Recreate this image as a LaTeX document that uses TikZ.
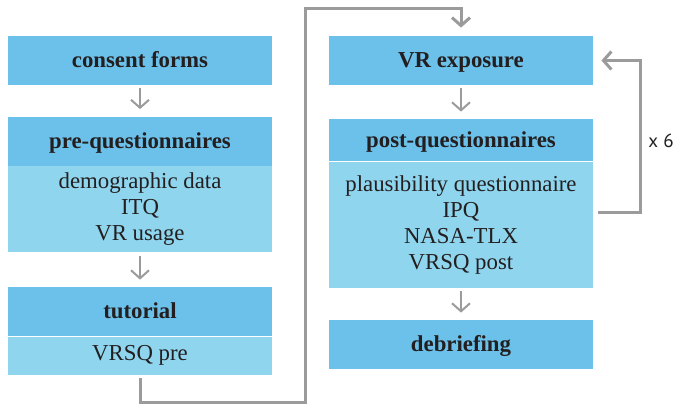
\documentclass[tikz,border=0pt]{standalone}
\usepackage{fontspec}
\setmainfont{Liberation Serif}
\newfontfamily\labelfont{PT Sans}
\usepackage{xcolor}
\usepackage{tikz}
\usetikzlibrary{positioning, arrows.meta}
\definecolor{headblue}{HTML}{6CC1EA}
\definecolor{bodyblue}{HTML}{8FD5EE}
\definecolor{linegray}{HTML}{9B9B9B}
\definecolor{inkdark}{HTML}{231F20}

\tikzset{
  stagehead/.style={fill=headblue, text=inkdark, inner sep=0pt, minimum width=132pt,
                    minimum height=24.5pt, text height=8.5pt, text depth=1.5pt,
                    font=\fontsize{11.4}{13}\selectfont\bfseries},
  stagebody/.style={fill=bodyblue, text=inkdark, inner sep=0pt, minimum width=132pt,
                    align=center, font=\fontsize{11.4}{13}\selectfont},
  nextarrow/.style={draw=linegray, line width=1pt, -{Straight Barb[length=4pt, width=9pt]},
                    shorten <=1.5pt, shorten >=3.5pt},
  loopline/.style={draw=linegray, line width=1.5pt, -{Straight Barb[length=4pt, width=9pt]}}
}

\begin{document}
\begin{tikzpicture}[x=0.5pt, y=-0.5pt]
    \useasboundingbox (0,0) rectangle (675,404);

    % left column
    \node[stagehead] (consent) at (140,60.5) {consent forms};
    \node[stagehead] (prehead) at (140,141) {pre-questionnaires};
    \node[stagebody, minimum height=43pt, below=0pt of prehead] (prebody)
      {demographic data\\ITQ\\VR usage};
    \node[stagehead] (tuthead) at (140,311.5) {tutorial};
    \node[stagebody, minimum height=19pt, below=0pt of tuthead] (tutbody) {VRSQ pre};

    % right column
    \node[stagehead] (vrexp) at (461,60.5) {VR exposure};
    \node[stagehead, minimum height=21pt] (posthead) at (461,140) {post-questionnaires};
    \node[stagebody, minimum height=63pt, below=0pt of posthead] (postbody)
      {plausibility questionnaire\\IPQ\\NASA-TLX\\VRSQ post};
    \node[stagehead] (debrief) at (461,344.5) {debriefing};

    \draw[nextarrow] (consent) -- (prehead);
    \draw[nextarrow] (prebody) -- (tuthead);
    \draw[nextarrow] (vrexp) -- (posthead);
    \draw[nextarrow] (postbody) -- (debrief);

    % from the tutorial over to the first exposure
    \coordinate (lowturn) at (305,402);
    \coordinate (highturn) at (305,8);
    \draw[loopline, shorten <=1.5pt, shorten >=4pt]
      (tutbody.south) |- (lowturn) -- (highturn) -| (vrexp.north);

    % repeat loop
    \draw[loopline, shorten <=2.5pt, shorten >=4pt]
      ([yshift=6pt]postbody.east) -- ++(47,0) |- (vrexp.east);
    \node[anchor=west, inner sep=0pt, text=inkdark, font=\labelfont\fontsize{9.5}{11}\selectfont]
      (repeats) at (648,141) {x 6};
\end{tikzpicture}
\end{document}
